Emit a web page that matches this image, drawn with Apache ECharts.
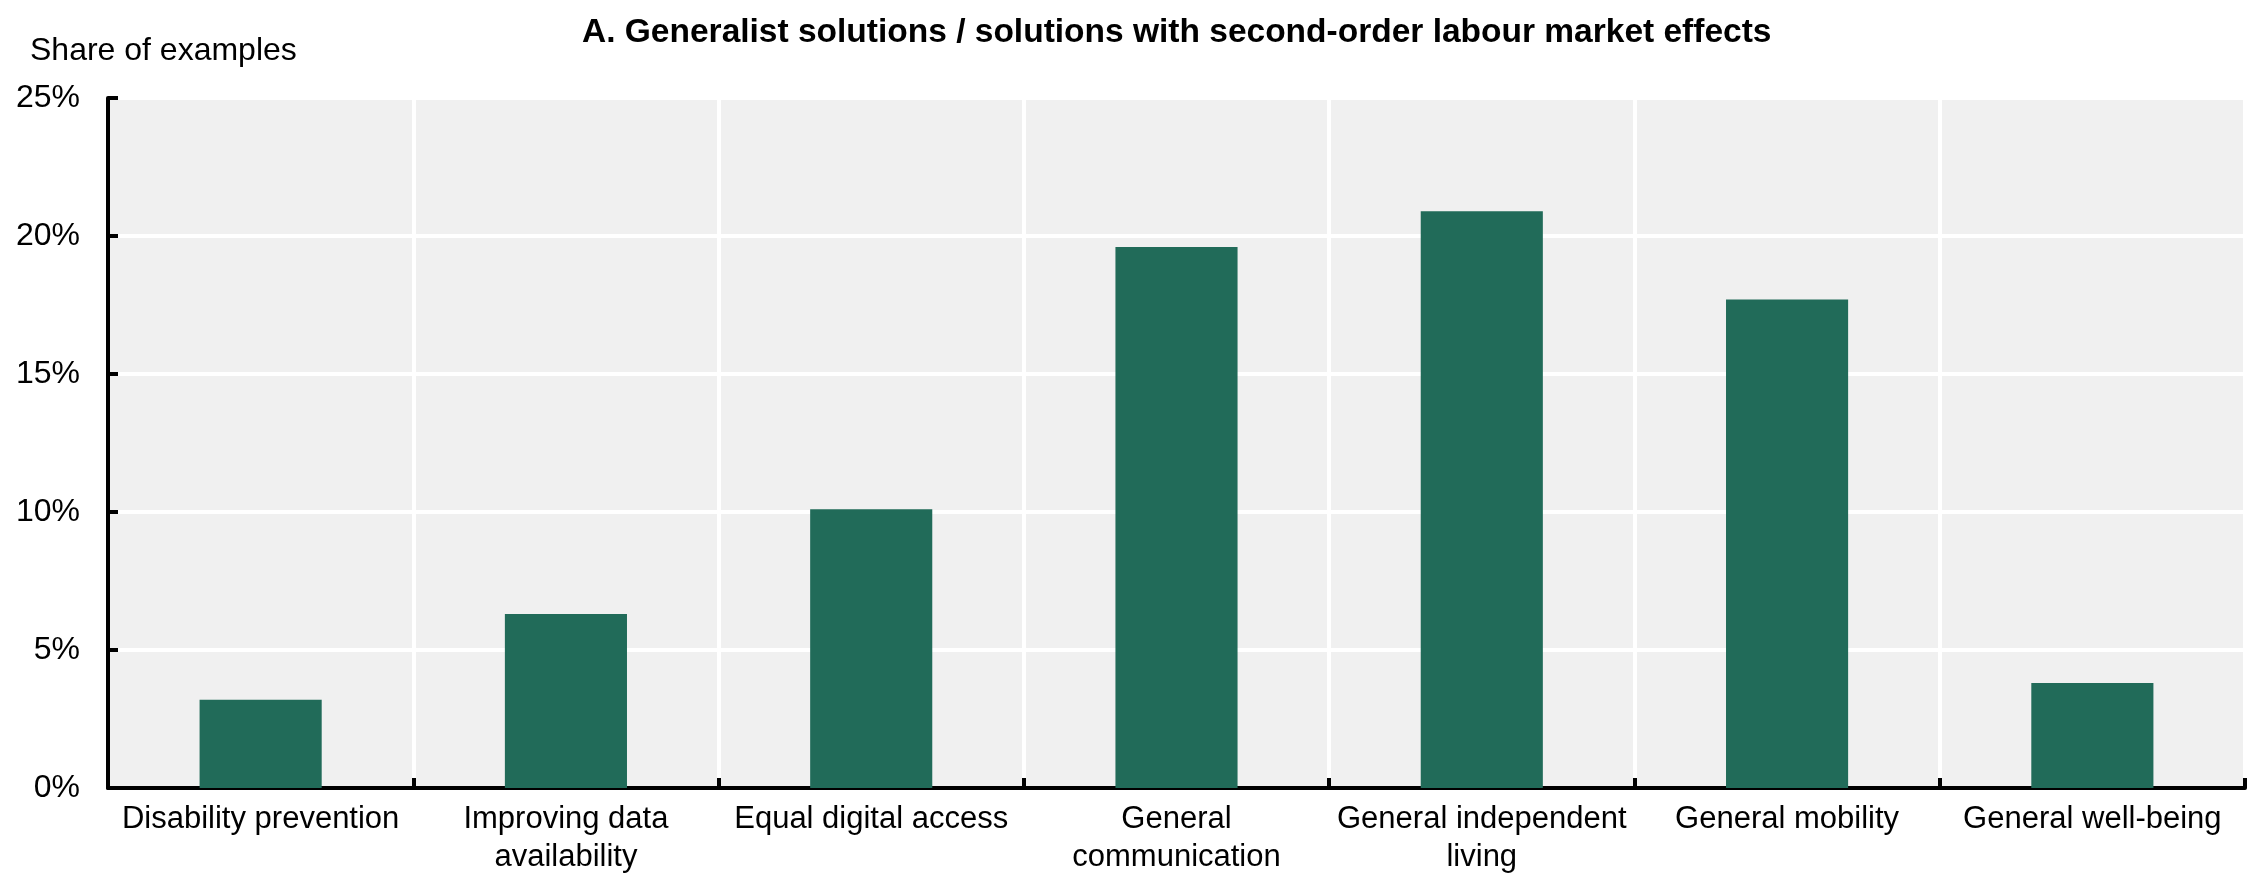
<!DOCTYPE html>
<html>
<head>
<meta charset="utf-8">
<script src="https://cdn.jsdelivr.net/npm/echarts@6/dist/echarts.min.js"></script>
<style>
  html, body { margin: 0; padding: 0; background: #ffffff; }
  #chart { width: 2262px; height: 880px; }
</style>
</head>
<body>
<div id="chart"></div>
<script>
// Panel A: share of examples by type of generalist solution
const panelTitle = 'A. Generalist solutions / solutions with second-order labour market effects';
const axisTitle = 'Share of examples';
const categories = [
  'Disability prevention',
  'Improving data\navailability',
  'Equal digital access',
  'General\ncommunication',
  'General independent\nliving',
  'General mobility',
  'General well-being'
];
const shares = [3.2, 6.3, 10.1, 19.6, 20.9, 17.7, 3.8];   // per cent
const yMin = 0;
const yMax = 25;
const yStep = 5;

const FONT = "'Liberation Sans', Arial, sans-serif";
const BAR_COLOR = '#216b59';

const chart = echarts.init(document.getElementById('chart'), null, { renderer: 'canvas' });

chart.setOption({
  animation: false,
  backgroundColor: '#ffffff',
  title: [
    {
      text: panelTitle,
      left: 577,
      top: 11,
      textStyle: { fontFamily: FONT, fontSize: 33.5, fontWeight: 'bold', color: '#000000' }
    },
    {
      text: axisTitle,
      left: 25,
      top: 30,
      textStyle: { fontFamily: FONT, fontSize: 32, fontWeight: 'normal', color: '#000000' }
    }
  ],
  grid: {
    left: 108,
    right: 17,
    top: 98,
    bottom: 92,
    show: true,
    backgroundColor: '#f0f0f0',
    borderWidth: 0,
    containLabel: false
  },
  xAxis: {
    type: 'category',
    data: categories,
    boundaryGap: true,
    axisLine: { show: true, lineStyle: { color: '#000000', width: 4 } },
    axisTick: { show: true, inside: true, length: 10, interval: 0, lineStyle: { color: '#000000', width: 4 } },
    splitLine: { show: true, interval: 0, lineStyle: { color: '#ffffff', width: 4 } },
    axisLabel: {
      interval: 0,
      margin: 12,
      fontFamily: FONT,
      fontSize: 31,
      lineHeight: 38,
      color: '#000000',
      align: 'center'
    }
  },
  yAxis: {
    type: 'value',
    min: yMin,
    max: yMax,
    interval: yStep,
    axisLine: { show: true, lineStyle: { color: '#000000', width: 4 } },
    axisTick: { show: true, inside: true, length: 10, lineStyle: { color: '#000000', width: 4 } },
    splitLine: { show: true, lineStyle: { color: '#ffffff', width: 4 } },
    axisLabel: {
      margin: 28,
      fontFamily: FONT,
      fontSize: 32,
      color: '#000000',
      formatter: '{value}%'
    }
  },
  series: [
    {
      type: 'bar',
      data: shares,
      barWidth: '40%',
      itemStyle: { color: BAR_COLOR },
      z: 3
    }
  ]
});
</script>
</body>
</html>
